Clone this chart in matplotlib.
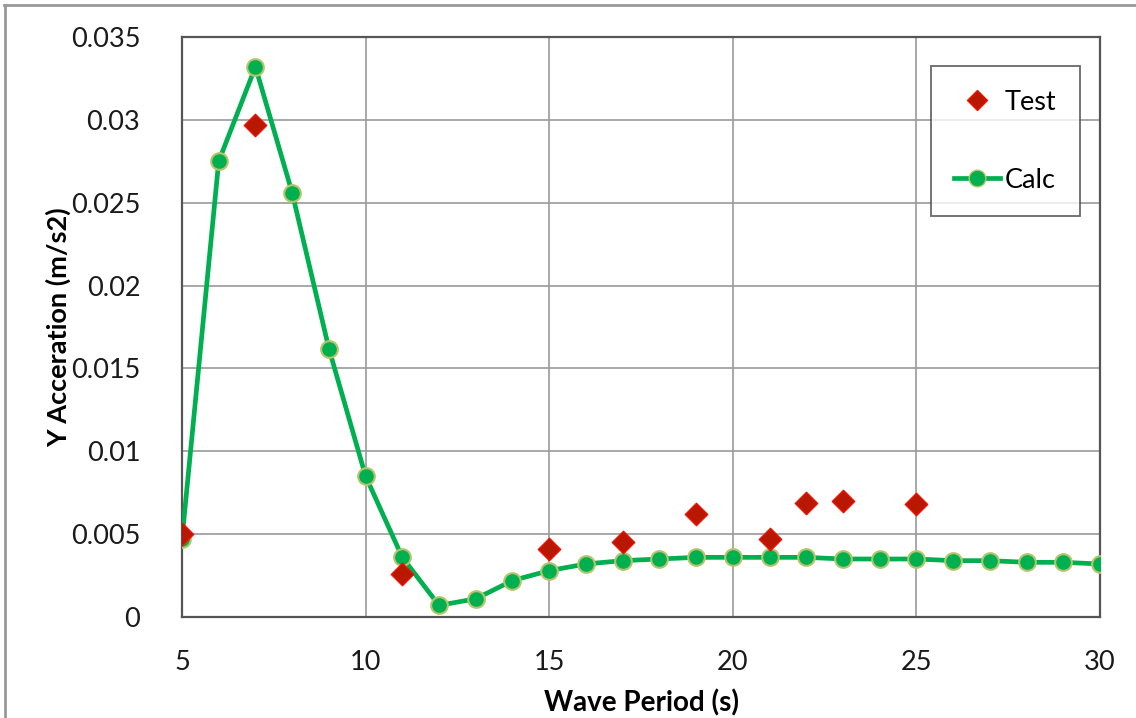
import matplotlib
matplotlib.use("Agg")
import matplotlib.pyplot as plt
from matplotlib.lines import Line2D

# wave periods (s)
calc_period = list(range(5, 31))
calc_accel = [0.0047, 0.0275, 0.0332, 0.0256, 0.0162, 0.0085, 0.0036, 0.0007,
              0.0011, 0.0022, 0.0028, 0.0032, 0.0034, 0.0035, 0.0036, 0.0036,
              0.0036, 0.0036, 0.0035, 0.0035, 0.0035, 0.0034, 0.0034, 0.0033,
              0.0033, 0.0032]

test_period = [5, 7, 11, 15, 17, 19, 21, 22, 23, 25]
test_accel = [0.0050, 0.0297, 0.0026, 0.0041, 0.0045, 0.0062, 0.0047, 0.0069,
              0.0070, 0.0068]

x_ticks = [5, 10, 15, 20, 25, 30]
y_ticks = [0, 0.005, 0.01, 0.015, 0.02, 0.025, 0.03, 0.035]
y_tick_labels = ["0", "0.005", "0.01", "0.015", "0.02", "0.025", "0.03", "0.035"]

plt.rcParams['font.family'] = ['Lato', 'DejaVu Sans']

fig = plt.figure(figsize=(11.36, 7.18), dpi=100)
ax = fig.add_axes([182 / 1136, 1 - 617 / 718, (1100 - 182) / 1136, (617 - 37) / 718])

green = '#00B050'
ax.plot(calc_period, calc_accel, color=green, lw=3.4, marker='o', ms=12,
        mfc=green, mec='#B5C46A', mew=1.5, zorder=3, label='Calc')
ax.scatter(test_period, test_accel, marker='D', s=130, color='#B81800',
           edgecolors='#F01000', linewidths=1.0, zorder=4, label='Test')

ax.set_xlim(5, 30)
ax.set_ylim(0, 0.035)
ax.set_xticks(x_ticks)
ax.set_yticks(y_ticks)
ax.set_yticklabels(y_tick_labels)
ax.tick_params(axis='both', labelsize=19.5, length=0, colors='#1a1a1a')
ax.tick_params(axis='x', pad=24)
ax.tick_params(axis='y', pad=30)
ax.grid(True, color='#9a9a9a', lw=1.2)
ax.set_axisbelow(True)
for side in ax.spines.values():
    side.set_color('#555555')
    side.set_linewidth(1.6)

ax.set_xlabel('Wave Period (s)', fontsize=20, fontweight='bold', labelpad=10)
ax.set_ylabel('Y Acceration (m/s2)', fontsize=19.5, fontweight='bold', labelpad=0)

handles = [
    Line2D([], [], ls='none', marker='D', ms=10, mfc='#B81800', mec='#F01000'),
    Line2D([], [], color=green, lw=3.4, marker='o', ms=12, mfc=green, mec='#B5C46A'),
]
leg = ax.legend(handles, ['Test', 'Calc'], loc='upper right',
                bbox_to_anchor=(1080 / 1136, 1 - 66 / 718), bbox_transform=fig.transFigure,
                fontsize=19.5, frameon=True, fancybox=False, borderpad=0.88,
                labelspacing=1.95, handlelength=1.7, handletextpad=0.15,
                borderaxespad=0)
leg.get_frame().set_edgecolor('#444444')
leg.get_frame().set_linewidth(1.3)

# chart area border (top/left edge)
fig.add_artist(Line2D([4 / 1136, 1], [1 - 5 / 718] * 2, transform=fig.transFigure,
                      color='#999999', lw=2))
fig.add_artist(Line2D([5 / 1136] * 2, [0, 1 - 5 / 718], transform=fig.transFigure,
                      color='#999999', lw=2))

fig.savefig('out.png', dpi=100)
